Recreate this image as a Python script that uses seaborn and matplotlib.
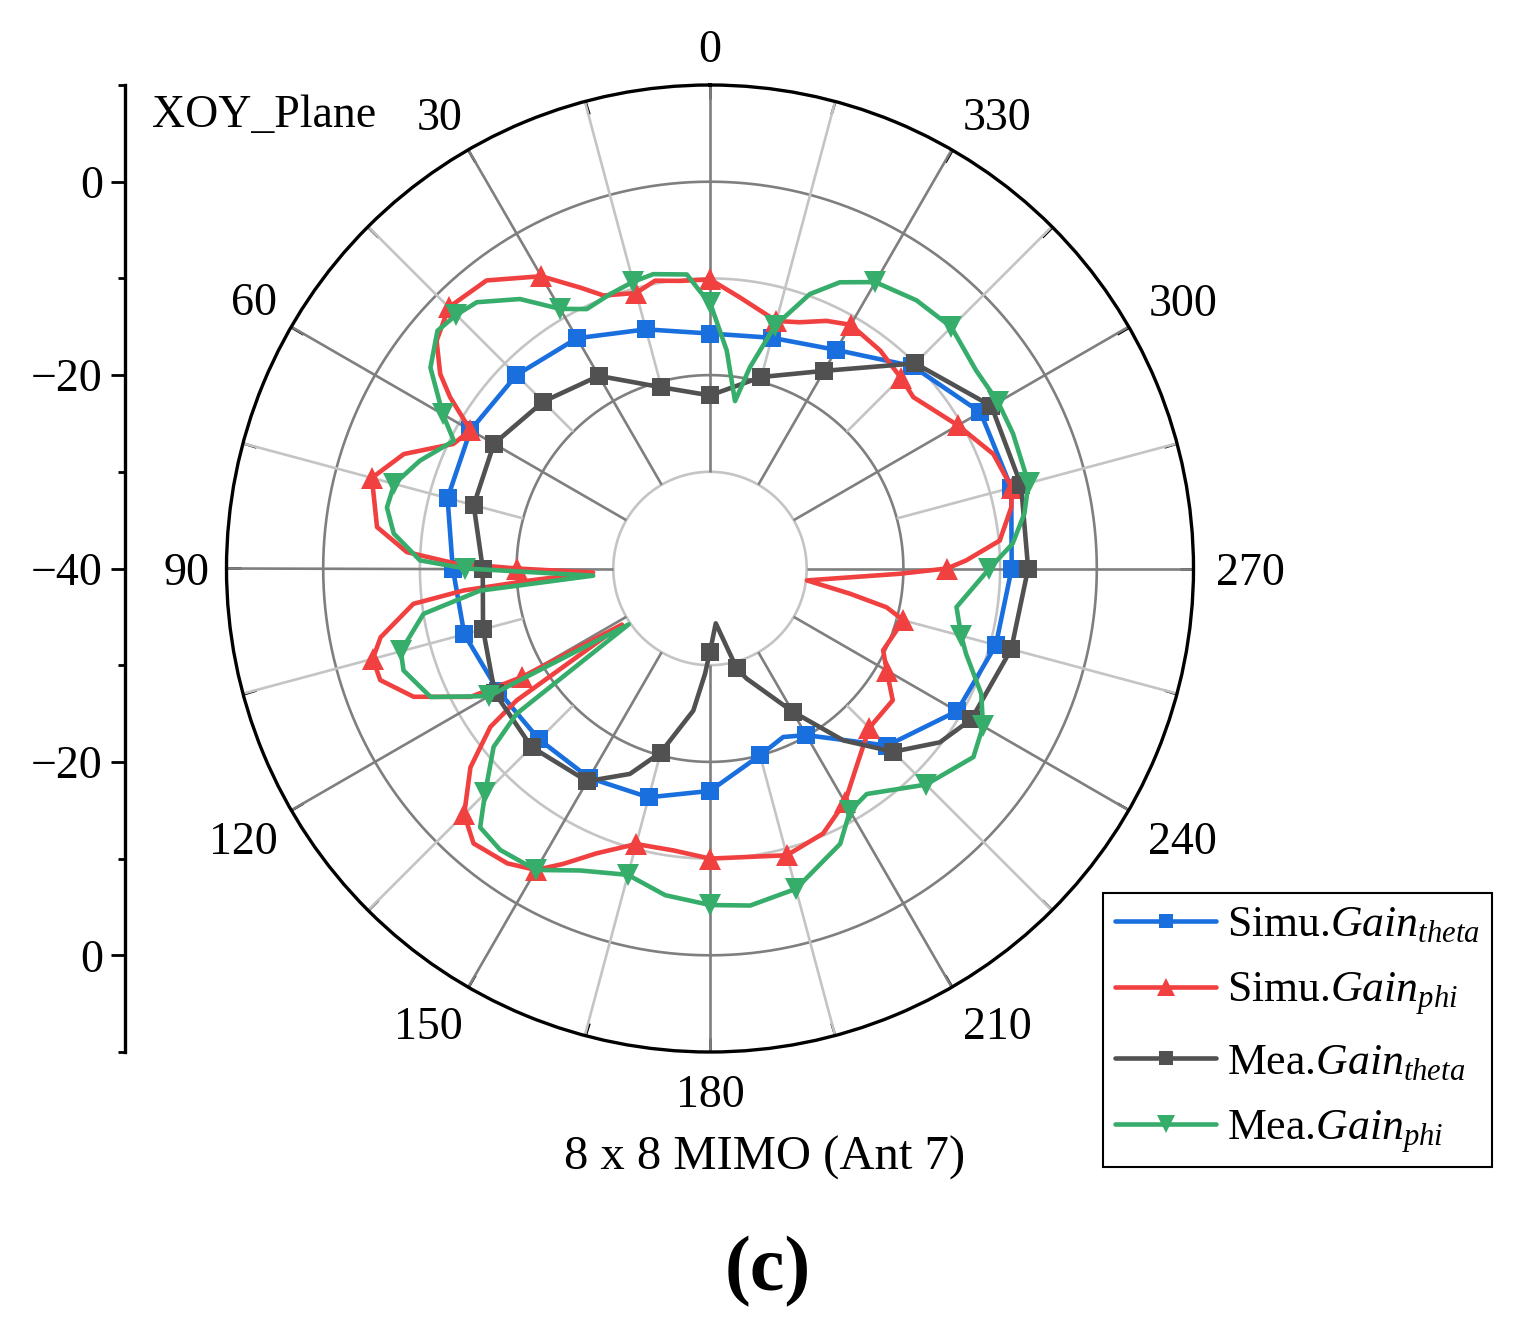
import numpy as np
import pandas as pd
import matplotlib
matplotlib.use("Agg")
import matplotlib.pyplot as plt
import seaborn as sns

# ---------------- data (angle in degrees, gain in dB) ----------------
simu_theta_angle = [0, 15, 30, 45, 60, 75, 90, 105, 120, 135, 150, 165, 180, 195, 203.5,
                    210, 225, 240, 255, 270, 285, 300, 315, 330, 345, 360]
simu_theta_gain = [-15.7, -14.4, -12.5, -11.7, -11.4, -11.9, -13.4, -13.7, -14.7, -15.0, -15.0,
                   -15.5, -17.0, -20.0, -21.0, -20.1, -14.1, -10.5, -9.4, -8.8, -7.75, -7.7,
                   -10.4, -13.9, -15.3, -15.7]

simu_phi_angle = [0, 5.9, 10.8, 15, 21.3, 24.8, 30, 37.8, 45, 50.2, 54.2, 56.6, 60, 64.1, 69.5,
                  75, 82.9, 86.9, 88.8, 90, 92, 93.8, 95.1, 96.8, 101.8, 105, 108.7, 113.4,
                  118.2, 120, 122.5, 124.3, 125.8, 129.7, 135, 139.3, 145.5, 150, 153.6, 158.3,
                  165, 172.6, 180, 195, 203.1, 210, 216.4, 225, 234.2, 240, 244.7, 255, 257.6,
                  259.8, 263, 268.4, 270, 271.8, 275.5, 281.5, 285, 292, 300, 310.1, 315, 322,
                  330, 334.8, 340, 345, 353.7, 360]
simu_phi_gain = [-10.1, -10.1, -9.7, -10.5, -9.7, -8.0, -5.1, -2.3, -1.8, -3.2, -5.6, -7.8, -11.4,
                 -10.5, -6.2, -3.8, -5.3, -8.6, -13.5, -20.0, -27.9, -21.4, -14.4, -9.1, -5.2,
                 -3.9, -4.0, -6.6, -11.9, -17.6, -29.2, -15.8, -12.0, -7.8, -4.05, -2.5, -3.0,
                 -4.0, -5.9, -8.3, -10.5, -10.6, -10.0, -9.3, -10.2, -12.1, -14.5, -16.7, -16.7,
                 -18.9, -20.2, -19.3, -21.3, -25.3, -29.9, -20.4, -15.5, -13.5, -9.9, -8.2, -7.7,
                 -8.4, -10.4, -12.5, -12.1, -11.4, -10.9, -11.7, -12.9, -13.5, -11.8, -10.1]

mea_theta_angle = [0, 15, 30, 45, 60, 75, 90, 105, 120, 135, 150, 158.7, 165, 173.3, 177.3, 180,
                   186, 195, 198.4, 210, 217.8, 225, 232.9, 240, 255, 270, 285, 300, 315, 330,
                   345, 360]
mea_theta_gain = [-22.1, -20.6, -17.0, -15.6, -14.2, -14.7, -16.5, -15.7, -14.3, -13.9, -14.6,
                  -17.2, -20.3, -25.2, -29.1, -31.4, -34.3, -29.3, -28.0, -22.9, -17.5, -13.2,
                  -10.2, -8.8, -7.75, -7.1, -6.7, -6.4, -10.0, -16.4, -19.5, -22.1]

mea_phi_angle = [0, 2.1, 4.5, 10.9, 15, 20, 25.4, 30, 35.2, 41.2, 45, 48.9, 54.3, 60, 63.5, 69.6,
                 75, 79.3, 83.7, 88.4, 90, 93.5, 95.5, 99, 105, 108.4, 114.7, 120, 124.5, 126.9,
                 129.5, 135, 138.4, 143.3, 150, 156.7, 165, 172.2, 180, 186.8, 195, 205.3, 210,
                 214.8, 225, 234.4, 240, 245.2, 251.6, 255, 261.1, 270, 274.7, 279.9, 285, 294,
                 300, 306.6, 315, 322.4, 330, 335.6, 340, 345, 348.8, 351.5, 355.6, 360]
mea_phi_gain = [-12.5, -11.3, -9.5, -9.0, -9.3, -9.8, -10.3, -9.0, -5.9, -3.4, -2.9, -2.6, -4.4,
                -8.1, -10.4, -8.0, -6.2, -6.0, -7.1, -10.0, -14.7, -27.9, -16.1, -10.0, -6.9,
                -6.6, -8.2, -13.6, -29.8, -15.0, -11.0, -7.1, -4.2, -3.7, -4.0, -6.0, -7.2, -5.9,
                -5.2, -4.9, -5.7, -8.5, -11.05, -11.6, -8.4, -6.5, -7.4, -9.1, -12.1, -13.1,
                -14.2, -11.1, -8.6, -7.0, -5.9, -5.7, -5.6, -5.7, -4.7, -5.0, -5.8, -7.5, -9.8,
                -14.0, -18.8, -22.5, -17.4, -12.5]

theta_tick_angles = list(range(0, 360, 30))
theta_tick_labels = [str(a) for a in theta_tick_angles]
radial_tick_labels = ["0", "\u221220", "\u221240", "\u221220", "0"]
legend_labels = [r"Simu.$\mathit{Gain}_{\mathit{theta}}$",
                 r"Simu.$\mathit{Gain}_{\mathit{phi}}$",
                 r"Mea.$\mathit{Gain}_{\mathit{theta}}$",
                 r"Mea.$\mathit{Gain}_{\mathit{phi}}$"]

# ---------------- style ----------------
sns.set_theme(style="white")
plt.rcParams["font.family"] = ["Liberation Serif", "DejaVu Serif"]
plt.rcParams["mathtext.fontset"] = "custom"
plt.rcParams["mathtext.rm"] = "Liberation Serif"
plt.rcParams["mathtext.it"] = "Liberation Serif:italic"
plt.rcParams["text.color"] = "black"

W, H = 1520, 1333
fig = plt.figure(figsize=(W / 100, H / 100), dpi=100)
fig.patch.set_facecolor("white")

cx, cy, R = 710, 568.5, 483.5
RMIN, RMAX = -40, 10
ax = fig.add_axes([(cx - R) / W, 1 - (cy + R) / H, 2 * R / W, 2 * R / H], projection="polar")
ax.set_theta_zero_location("N")
ax.set_theta_direction(1)
ax.grid(False)

dark = "#7f7f7f"
light = "#c4c4c4"
full = np.linspace(0, 2 * np.pi, 721)
for rr, cc in [(-30, light), (-20, dark), (-10, light), (0, dark)]:
    ax.plot(full, np.full_like(full, rr), color=cc, lw=1.9, zorder=1)
ax.vlines(np.deg2rad(np.arange(0, 360, 30)), -30, RMAX, colors=dark, lw=1.9, zorder=1)
ax.vlines(np.deg2rad(np.arange(15, 360, 30)), -20, RMAX, colors=light, lw=1.9, zorder=1)

series = [
    (simu_theta_angle, simu_theta_gain, "#1A6FDF", "s", 13),
    (simu_phi_angle, simu_phi_gain, "#F14040", "^", 15.5),
    (mea_theta_angle, mea_theta_gain, "#515151", "s", 13),
    (mea_phi_angle, mea_phi_gain, "#37AD6B", "v", 15.5),
]
handles = []
for i, (ang, val, col, mk, ms) in enumerate(series):
    ang = np.asarray(ang, dtype=float)
    df = pd.DataFrame({"theta": np.deg2rad(ang), "gain": val})
    every = [k for k, a in enumerate(ang) if (a % 15 == 0) and a < 360]
    sns.lineplot(data=df, x="theta", y="gain", ax=ax, sort=False, estimator=None,
                 color=col, linewidth=3.3, marker=mk, markersize=ms, markevery=every,
                 markeredgecolor=col, markeredgewidth=0, zorder=3 + i)
    ln = ax.lines[-1]
    ln.set_linewidth(3.3)
    ln.set_solid_joinstyle("round")
    handles.append(ln)

ax.set_xlabel("")
ax.set_ylabel("")
ax.set_ylim(RMIN, RMAX)
ax.set_yticks([])
ax.set_xticks(np.deg2rad(np.arange(0, 360, 30)))
ax.set_xticklabels([])
ax.set_xticks(np.deg2rad(np.arange(15, 360, 30)), minor=True)
ax.tick_params(axis="x", which="both", bottom=False, top=True, labeltop=False,
               labelbottom=False, direction="in", length=10, width=1.8, color="black")
ax.spines["polar"].set_color("black")
ax.spines["polar"].set_linewidth(2.4)
ax.set_facecolor("white")

# theta labels, anchored by the edge nearest the circle
px_per_unit = R / (RMAX - RMIN)
r_lab = RMIN + 506 / px_per_unit
for a, lab in zip(theta_tick_angles, theta_tick_labels):
    t = np.deg2rad(a)
    dxv, dyv = -np.sin(t), np.cos(t)
    ha = "left" if dxv > 0.1 else ("right" if dxv < -0.1 else "center")
    va = "baseline" if dyv > 0.1 else ("top" if dyv < -0.1 else "center_baseline")
    shift = 4 if ha == "right" else 0
    ax.annotate(lab, xy=(t, r_lab), xytext=(shift, 0), textcoords="offset points",
                fontsize=33, ha=ha, va=va, annotation_clip=False, color="black")

# left radial scale
lax = fig.add_axes([125 / W, 1 - (cy + R) / H, 0.0001, 2 * R / H])
lax.set_ylim(-50, 50)
lax.set_yticks([-40, -20, 0, 20, 40])
lax.set_yticklabels(radial_tick_labels, fontsize=33)
lax.set_yticks([-50, -30, -10, 10, 30, 50], minor=True)
lax.tick_params(axis="y", which="major", left=True, length=10, width=2, direction="out",
                pad=6, colors="black")
lax.tick_params(axis="y", which="minor", left=True, length=5, width=2, direction="out",
                colors="black")
lax.set_xticks([])
for s in ["top", "right", "bottom"]:
    lax.spines[s].set_visible(False)
lax.spines["left"].set_color("black")
lax.spines["left"].set_linewidth(2.4)
lax.patch.set_visible(False)

# texts
fig.text(152 / W, 1 - 127 / H, "XOY_Plane", fontsize=33, ha="left", va="baseline")
fig.text(765 / W, 1 - 1158 / H, "8 x 8 MIMO (Ant 7)", fontsize=35, ha="center", va="center")
fig.text(768 / W, 1 - 1272 / H, "(c)", fontsize=56, fontweight="bold", ha="center", va="center")

leg = fig.legend(handles, legend_labels, loc="upper left",
                 bbox_to_anchor=(1103 / W, 1 - 893 / H), fontsize=31.5, frameon=True,
                 fancybox=False, edgecolor="black", framealpha=1, handlelength=2.3,
                 handletextpad=0.25, labelspacing=0.58, borderpad=0.28, borderaxespad=0,
                 markerscale=0.8)
leg.get_frame().set_linewidth(1.5)

fig.savefig("out.png", dpi=100, facecolor="white")
